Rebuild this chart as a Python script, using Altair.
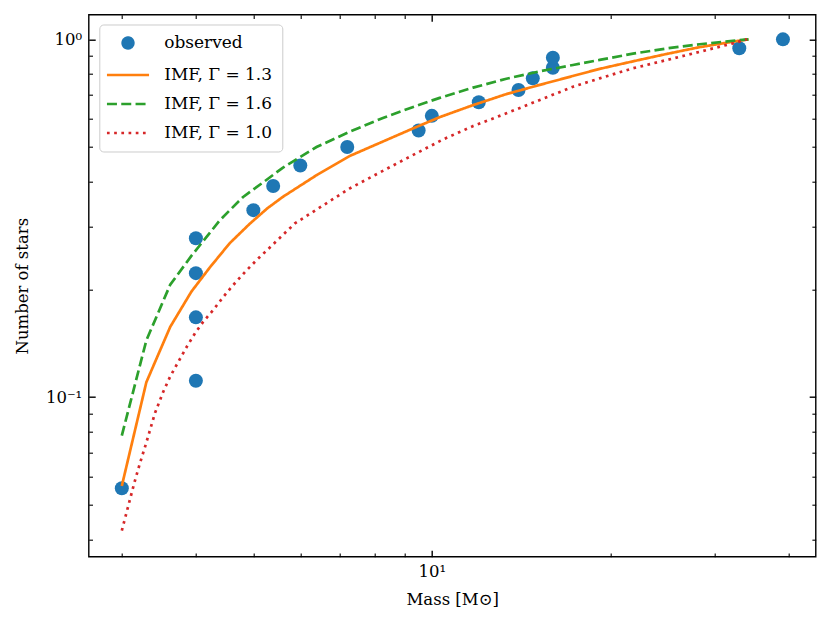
import altair as alt
import pandas as pd

S_OBS = "observed"
S13 = "IMF, Γ = 1.3"
S16 = "IMF, Γ = 1.6"
S10 = "IMF, Γ = 1.0"
SERIES = [S_OBS, S13, S16, S10]
COLORS = ["#1f77b4", "#ff7f0e", "#2ca02c", "#d62728"]
DASHES = [[1, 0], [1, 0], [10, 4.3], [2.7, 4.5]]
LINE_PATH = "M-3.96,0H3.96"
SHAPES = ["circle", LINE_PATH, LINE_PATH, LINE_PATH]

obs_mass = [3, 4, 4, 4, 4, 5, 5.4, 6, 7.2, 9.5, 10, 12, 14, 14.8, 16, 16, 33, 39.1]
obs_frac = [0.0556, 0.111, 0.167, 0.222, 0.278, 0.333, 0.389, 0.444, 0.5, 0.556,
            0.611, 0.667, 0.722, 0.778, 0.833, 0.889, 0.944, 1.0]

g13_mass = [3, 3.30, 3.62, 3.93, 4.22, 4.56, 4.93, 5.28, 5.61, 6.39, 7.27, 8.27, 9.42,
            10.31, 11.74, 13.36, 15.21, 17.30, 19.19, 21.84, 24.87, 28.29, 32.2, 34.2]
g13_frac = [0.0564, 0.110, 0.157, 0.197, 0.230, 0.269, 0.305, 0.337, 0.363, 0.417, 0.472,
            0.518, 0.569, 0.606, 0.655, 0.703, 0.746, 0.790, 0.827, 0.868, 0.910, 0.951,
            0.985, 1.0]

g16_mass = [3, 3.30, 3.62, 3.93, 4.39, 4.80, 5.18, 5.61, 6.39, 7.27, 8.27, 9.42, 10.31,
            11.74, 13.36, 15.21, 17.30, 19.19, 21.84, 24.87, 28.29, 32.2, 34.2]
g16_frac = [0.078, 0.144, 0.206, 0.248, 0.312, 0.362, 0.397, 0.438, 0.500, 0.552, 0.603,
            0.652, 0.686, 0.733, 0.776, 0.814, 0.848, 0.876, 0.912, 0.943, 0.969, 0.991, 1.0]

g10_mass = [3.0, 3.148, 3.219, 3.296, 3.411, 3.524, 3.618, 3.737, 3.861, 3.986, 4.116,
            4.279, 4.448, 4.624, 4.840, 5.064, 5.298, 5.876, 7.273, 9.066, 10.45, 11.74,
            13.36, 15.21, 17.30, 19.19, 21.84, 24.87, 28.29, 32.2, 34.0]
g10_frac = [0.0423, 0.0574, 0.0653, 0.0741, 0.0900, 0.1035, 0.1139, 0.1255, 0.1382,
            0.1507, 0.1624, 0.1751, 0.1904, 0.2056, 0.2236, 0.2415, 0.2593, 0.3058,
            0.3832, 0.4648, 0.5253, 0.5723, 0.621, 0.677, 0.737, 0.778, 0.830, 0.875,
            0.923, 0.9745, 1.0]

X_DOMAIN = [2.638, 44.4]
Y_DOMAIN = [0.03577, 1.172]
X_MAJOR = [10]
X_MINOR = [3, 4, 5, 6, 7, 8, 9, 20, 30, 40]
Y_MAJOR = [0.1, 1]
Y_MINOR = [0.04, 0.05, 0.06, 0.07, 0.08, 0.09, 0.2, 0.3, 0.4, 0.5, 0.6, 0.7, 0.8, 0.9]

obs = pd.DataFrame({"mass": obs_mass, "frac": obs_frac, "series": S_OBS})
lines = pd.concat([
    pd.DataFrame({"mass": m, "frac": f, "series": s})
    for m, f, s in [(g13_mass, g13_frac, S13), (g16_mass, g16_frac, S16), (g10_mass, g10_frac, S10)]
], ignore_index=True)

FONT = "DejaVu Serif"
W, H = 727, 542
MAJ, MIN = 6.5, 3.8


def xs():
    return alt.Scale(type="log", domain=X_DOMAIN, nice=False)


def ys():
    return alt.Scale(type="log", domain=Y_DOMAIN, nice=False)


def tick_axis(orient, values, size, width):
    return alt.Axis(orient=orient, values=values, labels=False, domain=False, grid=False,
                    ticks=True, tickSize=size, tickWidth=width, tickColor="black",
                    offset=-size, title=None)


def ghost(xax, yax):
    return alt.Chart(obs).mark_point(opacity=0).encode(
        x=alt.X("mass:Q", scale=xs(), axis=xax),
        y=alt.Y("frac:Q", scale=ys(), axis=yax),
    )


legend = alt.Legend(
    orient="none", legendX=10.6, legendY=9.8, title=None,
    labelFont=FONT, labelFontSize=17, labelColor="black", labelLimit=400,
    labelOffset=27.7, symbolOffset=10.2, padding=10, rowPadding=11,
    strokeColor="#cccccc", fillColor="rgba(255,255,255,0.8)", cornerRadius=4,
    symbolSize=113, symbolStrokeWidth=2.7, symbolOpacity=1,
)

points = alt.Chart(obs).mark_point(filled=True, size=196, opacity=1, strokeWidth=0).encode(
    x=alt.X("mass:Q", scale=xs(), axis=alt.Axis(
        orient="bottom", values=X_MAJOR, labelExpr="'10¹'", ticks=False, domain=False,
        grid=False, labelPadding=7, title="Mass [M⊙]", titlePadding=11)),
    y=alt.Y("frac:Q", scale=ys(), axis=alt.Axis(
        orient="left", values=Y_MAJOR, labelExpr="datum.value >= 1 ? '10⁰' : '10⁻¹'",
        ticks=False, domain=False, grid=False, labelPadding=7,
        title="Number of stars", titlePadding=15)),
    fill=alt.Fill("series:N", scale=alt.Scale(domain=SERIES, range=COLORS), legend=legend),
    shape=alt.Shape("series:N", scale=alt.Scale(domain=SERIES, range=SHAPES)),
)

curves = alt.Chart(lines).mark_line(strokeWidth=2.7).encode(
    x=alt.X("mass:Q", scale=xs(), axis=tick_axis("bottom", X_MAJOR, MAJ, 1.4)),
    y=alt.Y("frac:Q", scale=ys(), axis=tick_axis("left", Y_MAJOR, MAJ, 1.4)),
    stroke=alt.Stroke("series:N", scale=alt.Scale(domain=SERIES, range=COLORS)),
    strokeDash=alt.StrokeDash("series:N", scale=alt.Scale(domain=SERIES, range=DASHES)),
)

g1 = ghost(tick_axis("bottom", X_MINOR, MIN, 1.1), tick_axis("left", Y_MINOR, MIN, 1.1))
g2 = ghost(tick_axis("top", X_MAJOR, MAJ, 1.4), tick_axis("right", Y_MAJOR, MAJ, 1.4))
g3 = ghost(tick_axis("top", X_MINOR, MIN, 1.1), tick_axis("right", Y_MINOR, MIN, 1.1))

chart = alt.layer(g1, g2, g3, points, curves).resolve_scale(
    x="independent", y="independent"
).resolve_axis(
    x="independent", y="independent"
).properties(
    width=W, height=H,
    autosize=alt.AutoSizeParams(type="none"),
    padding={"left": 80.7, "top": 6.7, "right": 7, "bottom": 60},
).configure_view(
    stroke="black", strokeWidth=1.4
).configure_axis(
    labelFont=FONT, labelFontSize=16.5, labelColor="black",
    titleFont=FONT, titleFontSize=16.5, titleFontWeight="normal", titleColor="black",
)

chart.save("out.html", embed_options={"renderer": "svg", "actions": False})
